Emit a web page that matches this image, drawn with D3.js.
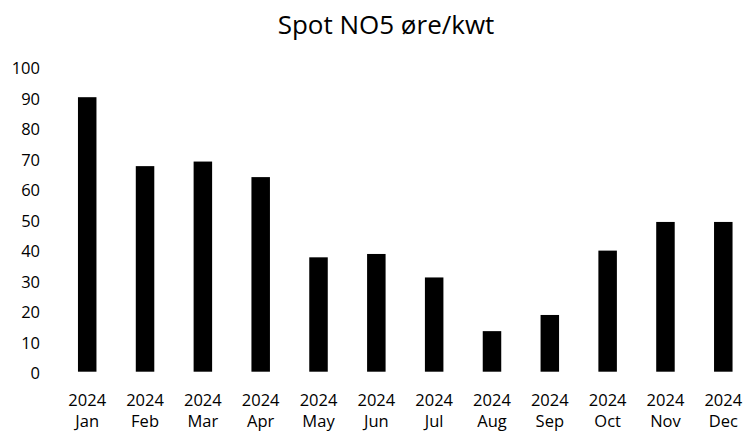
<!DOCTYPE html>
<html>
<head>
<meta charset="utf-8">
<script src="https://cdn.jsdelivr.net/npm/d3@7"></script>
<style>
  body { margin: 0; background: #fff; }
  text { font-family: "Open Sans", sans-serif; fill: #000; }
</style>
</head>
<body>
<div id="chart"></div>
<script>
/* chart data */
var months = ["Jan", "Feb", "Mar", "Apr", "May", "Jun", "Jul", "Aug", "Sep", "Oct", "Nov", "Dec"]
var year = "2024"
var spotPrice = [90.0, 67.4, 68.9, 63.8, 37.5, 38.6, 30.9, 13.3, 18.6, 39.7, 49.1, 49.1]
var yTicks = [0, 10, 20, 30, 40, 50, 60, 70, 80, 90, 100]
var chartTitle = "Spot NO5 øre/kwt"

var layout = {
  width: 747,
  height: 432,
  plotLeft: 58.3,
  plotRight: 752.2,
  plotTop: 66.7,
  plotBottom: 371.7,
  barWidth: 18.5,
  yLabelX: 40,
  fontSize: 16.5,
  titleSize: 26,
  titleY: 34
}

var x = d3.scaleBand()
  .domain(months)
  .range([layout.plotLeft, layout.plotRight])

var y = d3.scaleLinear()
  .domain([0, 100])
  .range([layout.plotBottom, layout.plotTop])

var svg = d3.select("#chart")
  .append("svg")
  .attr("width", layout.width)
  .attr("height", layout.height)

svg.append("text")
  .text(chartTitle)
  .attr("x", 386)
  .attr("y", layout.titleY)
  .attr("text-anchor", "middle")
  .style("font-size", layout.titleSize + "px")

/* y axis: labels only, no line */
var yAxis = svg.append("g")
  .attr("transform", "translate(" + layout.yLabelX + ",0)")
  .call(d3.axisLeft(y).tickValues(yTicks).tickSize(0).tickPadding(0))

yAxis.select(".domain").remove()
yAxis.selectAll("text")
  .style("font-size", layout.fontSize + "px")
  .attr("dy", "0.42em")

/* bars */
svg.selectAll(".bar").data(spotPrice).enter()
  .append("rect")
  .attr("class", "bar")
  .attr("x", function(d, i) { return x(months[i]) + x.bandwidth() / 2 - layout.barWidth / 2 })
  .attr("width", layout.barWidth)
  .attr("y", function(d) { return y(d) })
  .attr("height", function(d) { return y(0) - y(d) })
  .style("fill", "#000")

/* x axis: two-line labels, year over month */
var xAxis = svg.append("g")
  .attr("transform", "translate(0," + layout.plotBottom + ")")
  .call(d3.axisBottom(x).tickSize(0).tickFormat(""))

xAxis.select(".domain").remove()
xAxis.selectAll(".tick").append("text")
  .attr("text-anchor", "middle")
  .style("font-size", layout.fontSize + "px")
  .each(function(d) {
    var t = d3.select(this)
    t.append("tspan").attr("x", 0).attr("y", 34).text(year)
    t.append("tspan").attr("x", 0).attr("y", 55.5).text(d)
  })
</script>
</body>
</html>
